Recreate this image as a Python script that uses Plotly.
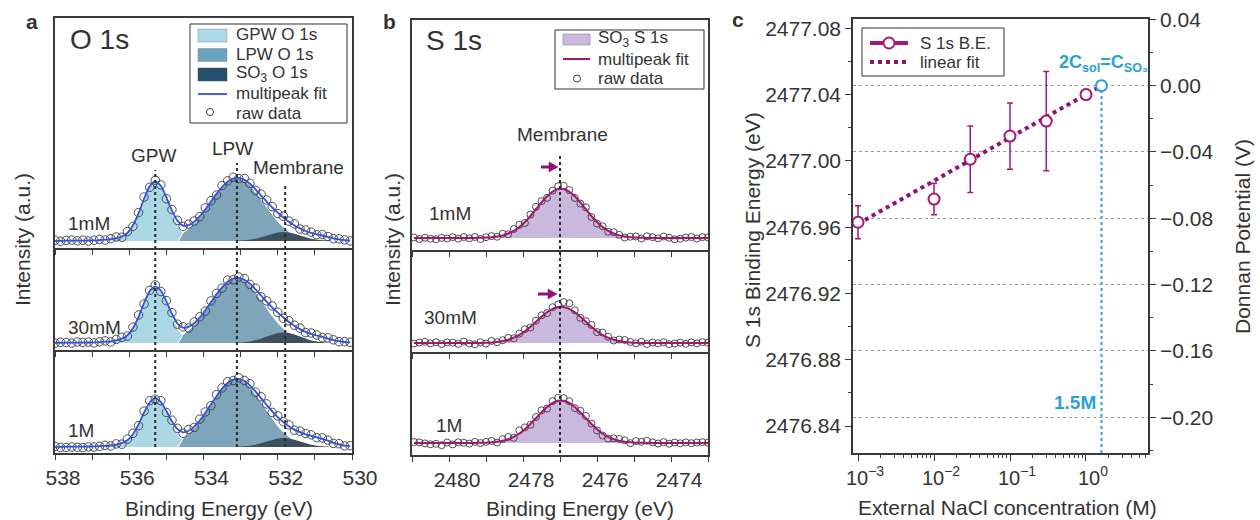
import plotly.graph_objects as go

W, H = 1260, 520
def fx(p): return p / W
def fy(p): return 1 - p / H

FONT = "Liberation Sans, Arial, Helvetica, sans-serif"
TXT = "#333333"
AXC = "#3a3a3a"

# ======================= DATA =======================
# ---- panel a : O 1s (intensity in arbitrary units, baseline = 0)
o_be = [538.00, 537.85, 537.70, 537.55, 537.40, 537.25, 537.10, 536.95, 536.80, 536.65,
        536.50, 536.35, 536.20, 536.05, 535.90, 535.75, 535.60, 535.45, 535.30, 535.15,
        535.00, 534.85, 534.70, 534.55, 534.40, 534.25, 534.10, 533.95, 533.80, 533.65,
        533.50, 533.35, 533.20, 533.05, 532.90, 532.75, 532.60, 532.45, 532.30, 532.15,
        532.00, 531.85, 531.70, 531.55, 531.40, 531.25, 531.10, 530.95, 530.80, 530.65,
        530.50, 530.35, 530.20, 530.05]
o_samples = ["1mM", "30mM", "1M"]
o_raw_1mM = [0.7, -0.2, 0.6, 0.9, 0.2, 0.8, 0.0, 0.8, 1.6, 1.0,
             2.3, 4.0, 3.7, 9.5, 14.6, 28.4, 43.9, 53.7, 60.8, 56.1,
             42.2, 31.4, 20.7, 14.6, 16.9, 20.0, 24.3, 33.1, 40.3, 46.0,
             55.5, 60.2, 63.7, 62.4, 62.6, 57.7, 50.7, 46.8, 41.0, 34.4,
             27.4, 24.8, 19.9, 17.1, 12.0, 11.0, 8.9, 6.2, 6.4, 4.5,
             2.3, 2.2, 1.1, 0.1]
o_fit_1mM = [0.2, 0.2, 0.3, 0.3, 0.4, 0.4, 0.5, 0.6, 0.9, 1.3,
             1.8, 2.8, 4.5, 8.0, 15.6, 27.6, 42.3, 54.6, 59.6, 55.2,
             43.6, 30.3, 20.1, 15.4, 15.9, 19.3, 24.9, 31.8, 39.5, 47.1,
             54.0, 59.3, 62.5, 63.1, 61.2, 57.2, 51.7, 45.6, 39.4, 33.6,
             28.3, 23.5, 19.2, 15.6, 12.6, 10.0, 8.1, 6.7, 5.5, 4.1,
             2.6, 1.6, 0.9, 0.5]
o_raw_30mM = [-0.1, 0.7, 0.5, -0.1, 1.0, 0.5, 0.9, 0.1, 1.2, 2.1,
              1.1, 3.6, 5.7, 6.9, 15.9, 28.0, 39.0, 52.6, 58.1, 51.5,
              42.4, 30.4, 18.8, 16.2, 15.0, 21.0, 26.2, 31.9, 42.1, 49.6,
              54.9, 62.8, 63.3, 66.0, 64.5, 58.6, 54.8, 46.2, 42.1, 37.1,
              30.7, 24.7, 22.2, 17.8, 14.9, 10.4, 10.0, 8.0, 5.5, 5.2,
              3.2, 1.3, 1.4, 0.75]
o_fit_30mM = [0.2, 0.2, 0.3, 0.3, 0.4, 0.4, 0.5, 0.6, 0.9, 1.3,
              1.7, 2.7, 4.4, 7.6, 14.8, 26.2, 40.2, 51.9, 56.6, 52.5,
              41.6, 29.0, 19.5, 15.3, 16.1, 19.8, 25.6, 32.8, 40.7, 48.6,
              55.7, 61.2, 64.5, 65.1, 63.2, 59.2, 53.7, 47.5, 41.4, 35.6,
              30.3, 25.5, 21.0, 17.2, 13.9, 11.1, 9.1, 7.5, 6.1, 4.5,
              2.9, 1.8, 1.0, 0.55]
o_raw_1M = [0.6, -0.4, -0.5, 0.0, -0.3, -0.5, 0.1, 0.0, 0.7, 1.7,
            1.1, 3.1, 2.8, 7.9, 13.7, 21.3, 35.9, 46.3, 47.8, 46.3,
            34.5, 26.8, 18.7, 13.7, 17.6, 19.6, 27.8, 35.0, 41.4, 52.3,
            59.1, 65.3, 66.5, 69.2, 66.6, 63.2, 54.9, 50.2, 43.1, 34.6,
            31.1, 25.4, 22.1, 16.8, 15.8, 13.4, 12.2, 9.3, 9.1, 6.9,
            3.6, 3.3, 1.1, 1.3]
o_fit_1M = [0.2, 0.2, 0.3, 0.3, 0.4, 0.4, 0.5, 0.6, 0.9, 1.2,
            1.6, 2.4, 3.9, 6.7, 12.8, 22.6, 34.5, 44.5, 48.6, 45.2,
            36.0, 25.5, 17.8, 14.7, 16.2, 20.4, 26.6, 34.3, 42.6, 50.8,
            58.3, 64.0, 67.4, 68.1, 66.0, 61.7, 55.6, 48.9, 42.2, 35.7,
            29.9, 24.9, 20.7, 17.4, 14.8, 12.6, 11.1, 9.7, 8.2, 6.3,
            4.1, 2.6, 1.4, 0.8]

gpw_be = [536.80, 536.65, 536.50, 536.35, 536.20, 536.05, 535.90, 535.75, 535.60, 535.45,
          535.30, 535.15, 535.00, 534.85, 534.70, 534.55, 534.40, 534.25, 534.10, 533.95, 533.80]
gpw_1mM = [0.24, 0.47, 0.89, 1.77, 3.54, 7.08, 14.75, 27.0, 41.7, 54.1, 59.0,
           54.1, 41.7, 27.0, 14.75, 7.08, 3.54, 1.77, 0.89, 0.47, 0.24]
gpw_30mM = [0.22, 0.45, 0.84, 1.68, 3.36, 6.72, 14.0, 25.6, 39.6, 51.4, 56.0,
            51.4, 39.6, 25.6, 14.0, 6.72, 3.36, 1.68, 0.84, 0.45, 0.22]
gpw_1M = [0.19, 0.38, 0.72, 1.44, 2.88, 5.76, 12.0, 22.0, 33.9, 44.0, 48.0,
          44.0, 33.9, 22.0, 12.0, 5.76, 2.88, 1.44, 0.72, 0.38, 0.19]

lpw_be = [534.68, 534.55, 534.40, 534.25, 534.10, 533.95, 533.80, 533.65, 533.50, 533.35,
          533.20, 533.05, 532.90, 532.75, 532.60, 532.45, 532.30, 532.15, 532.00, 531.85,
          531.70, 531.55, 531.40, 531.25, 531.10, 530.95, 530.80, 530.65]
lpw_1mM = [0, 8.3, 12.3, 17.6, 24.0, 31.4, 39.2, 47.1, 54.0, 59.3, 62.4, 62.8, 60.6, 56.0,
           49.5, 41.9, 34.0, 26.4, 19.6, 14.0, 9.5, 6.2, 3.9, 2.3, 1.3, 0.7, 0.4, 0.2]
lpw_30mM = [0, 8.55, 12.74, 18.1, 24.8, 32.4, 40.5, 48.6, 55.7, 61.2, 64.35, 64.8, 62.5, 57.8,
            51.1, 43.2, 35.0, 27.2, 20.2, 14.4, 9.8, 6.4, 4.0, 2.4, 1.4, 0.75, 0.4, 0.2]
lpw_1M = [0, 8.95, 13.3, 19.0, 25.9, 33.9, 42.4, 50.8, 58.3, 64.0, 67.3, 67.8, 65.4, 60.5,
          53.4, 45.2, 36.7, 28.5, 21.1, 15.1, 10.3, 6.7, 4.2, 2.5, 1.43, 0.79, 0.41, 0.2]

so3_be = [533.20, 533.05, 532.90, 532.75, 532.60, 532.45, 532.30, 532.15, 532.00, 531.85,
          531.70, 531.55, 531.40, 531.25, 531.10, 530.95, 530.80, 530.65, 530.50]
so3_1mM = [0.1, 0.26, 0.59, 1.2, 2.24, 3.7, 5.46, 7.2, 8.5, 9.0,
           8.5, 7.2, 5.46, 3.7, 2.24, 1.2, 0.59, 0.26, 0.1]
so3_30mM = [0.12, 0.3, 0.69, 1.42, 2.61, 4.3, 6.4, 8.4, 9.9, 10.5,
            9.9, 8.4, 6.4, 4.3, 2.61, 1.42, 0.69, 0.3, 0.12]
so3_1M = [0.1, 0.26, 0.59, 1.2, 2.24, 3.7, 5.46, 7.2, 8.5, 9.0,
          8.5, 7.2, 5.46, 3.7, 2.24, 1.2, 0.59, 0.26, 0.1]

o_peak_lines = [535.3, 533.1, 531.8]
o_tickvals = [538, 536, 534, 532, 530]
o_ticktext = ["538", "536", "534", "532", "530"]
o_minor = [537, 535, 533, 531]

# ---- panel b : S 1s
s_be = [2480.95, 2480.80, 2480.65, 2480.50, 2480.35, 2480.20, 2480.05, 2479.90, 2479.75, 2479.60,
        2479.45, 2479.30, 2479.15, 2479.00, 2478.85, 2478.70, 2478.55, 2478.40, 2478.25, 2478.10,
        2477.95, 2477.80, 2477.65, 2477.50, 2477.35, 2477.20, 2477.05, 2476.90, 2476.75, 2476.60,
        2476.45, 2476.30, 2476.15, 2476.00, 2475.85, 2475.70, 2475.55, 2475.40, 2475.25, 2475.10,
        2474.95, 2474.80, 2474.65, 2474.50, 2474.35, 2474.20, 2474.05, 2473.90, 2473.75, 2473.60,
        2473.45, 2473.30, 2473.15, 2473.00]
s_raw_1mM = [0.5, -1.0, 0.3, -0.8, -1.2, 0.2, -0.5, 0.8, -0.6, 1.0,
             -0.3, 1.0, -1.0, 0.8, 1.9, 1.3, 4.2, 3.7, 9.0, 13.2,
             15.0, 23.5, 31.2, 36.8, 40.2, 47.4, 51.8, 52.2, 47.9, 40.1,
             34.4, 30.6, 21.0, 14.5, 11.8, 6.3, 5.8, 3.2, 0.5, 1.3,
             1.6, -0.5, 1.7, 0.8, -0.4, 1.5, 0.2, -1.3, -0.8, 0.4,
             1.0, -0.5, 0.9, 0.6]
s_fit_1mM = [0, 0, 0, 0, 0, 0, 0, 0, 0, 0,
             0, 0.1, 0.2, 0.4, 0.8, 1.5, 2.6, 4.5, 7.2, 11.0,
             16.0, 22.0, 28.8, 35.6, 41.7, 46.4, 49.0, 49.0, 46.4, 41.7,
             35.6, 28.8, 22.0, 16.0, 11.0, 7.2, 4.5, 2.6, 1.5, 0.8,
             0.4, 0.2, 0.1, 0, 0, 0, 0, 0, 0, 0,
             0, 0, 0, 0]
s_raw_30mM = [-0.6, 0.5, 1.2, -0.4, 0.8, -1.1, 0.6, 0.3, -0.9, 1.4,
              -0.5, -1.3, 0.8, -0.5, 2.1, 0.8, 2.8, 5.1, 4.7, 9.4,
              13.8, 15.5, 22.3, 27.7, 29.9, 35.8, 38.6, 40.9, 39.7, 32.7,
              25.2, 21.8, 18.0, 10.9, 10.5, 6.3, 2.5, 3.4, 3.0, 1.0,
              -0.3, 1.3, -1.0, 0.5, -0.3, 0.8, -1.2, -0.5, 0.3, -0.8,
              0.6, -0.4, 0.9, 0.3]
s_fit_30mM = [0, 0, 0, 0, 0, 0, 0, 0, 0, 0,
              0, 0, 0.1, 0.3, 0.6, 1.1, 1.9, 3.3, 5.3, 8.1,
              11.8, 16.2, 21.2, 26.2, 30.7, 34.2, 36.1, 36.1, 34.2, 30.7,
              26.2, 21.2, 16.2, 11.8, 8.1, 5.3, 3.3, 1.9, 1.1, 0.6,
              0.3, 0.1, 0, 0, 0, 0, 0, 0, 0, 0,
              0, 0, 0, 0]
s_raw_1M = [1.0, 0.6, -0.4, -1.3, -0.8, -2.2, 0.4, -1.4, 0.7, 0.2,
            -0.6, 1.1, -0.1, 1.1, 2.1, 0.4, 3.9, 6.0, 5.2, 12.7,
            15.6, 18.2, 26.0, 32.7, 34.4, 41.9, 45.3, 44.8, 41.8, 34.9,
            32.2, 27.0, 19.5, 12.6, 7.5, 4.4, 4.6, 4.1, 2.7, -0.2,
            1.9, 1.2, 2.3, 0.6, -0.5, 0.9, -0.7, 0.4, -0.3, 0.6,
            -0.2, 0.5, 0.8, 0.4]
s_fit_1M = [0, 0, 0, 0, 0, 0, 0, 0, 0, 0,
            0, 0.1, 0.2, 0.3, 0.7, 1.3, 2.3, 3.8, 6.2, 9.5,
            13.8, 19.0, 24.8, 30.7, 36.0, 40.0, 42.2, 42.2, 40.0, 36.0,
            30.7, 24.8, 19.0, 13.8, 9.5, 6.2, 3.8, 2.3, 1.3, 0.7,
            0.3, 0.2, 0.1, 0, 0, 0, 0, 0, 0, 0,
            0, 0, 0, 0]
s_peak_line = 2477.0
s_tickvals = [2480, 2478, 2476, 2474]
s_ticktext = ["2480", "2478", "2476", "2474"]
s_minor = [2481, 2479, 2477, 2475, 2473]

# ---- panel c : S 1s binding energy vs NaCl concentration
nacl_M = [0.001, 0.01, 0.03, 0.1, 0.3, 1.0]
s1s_be = [2476.963, 2476.977, 2477.001, 2477.015, 2477.024, 2477.040]
s1s_err = [0.010, 0.0095, 0.020, 0.020, 0.030, 0.003]
fit_M = [0.001, 1.6]
fit_be = [2476.962, 2477.0454]
cross_M = [1.6]
cross_V = [0.0]
be_ticks = [2476.84, 2476.88, 2476.92, 2476.96, 2477.00, 2477.04, 2477.08]
v_ticks = [-0.20, -0.16, -0.12, -0.08, -0.04, 0.00, 0.04]
c_xticks = [0.001, 0.01, 0.1, 1]
c_xticktext = ["10<sup>\u22123</sup>", "10<sup>\u22122</sup>", "10<sup>\u22121</sup>", "10<sup>0</sup>"]
c_xminor = [0.002, 0.003, 0.004, 0.005, 0.006, 0.007, 0.008, 0.009,
            0.02, 0.03, 0.04, 0.05, 0.06, 0.07, 0.08, 0.09,
            0.2, 0.3, 0.4, 0.5, 0.6, 0.7, 0.8, 0.9,
            2, 3, 4, 5, 6]

# ======================= STYLE =======================
C_GPW, C_LPW, C_SO3 = "#acd8e6", "#7ea5ba", "#3e505e"
C_GPW_L, C_LPW_L, C_SO3_L = "#abdaea", "#6aa2c2", "#24506c"
C_OFIT = "#3050e0"
C_SFILL = "#cbb8df"
C_SFIT = "#a3166f"
C_MAG = "#a3187d"
C_FIT = "#8c1273"
C_BLUE = "#2a9fd8"

fig = go.Figure()

o_axes = [("x", "y"), ("x2", "y2"), ("x3", "y3")]
s_axes = [("x4", "y4"), ("x5", "y5"), ("x6", "y6")]

o_sets = [(gpw_1mM, lpw_1mM, so3_1mM, o_raw_1mM, o_fit_1mM),
          (gpw_30mM, lpw_30mM, so3_30mM, o_raw_30mM, o_fit_30mM),
          (gpw_1M, lpw_1M, so3_1M, o_raw_1M, o_fit_1M)]
for (xa, ya), (gp, lp, so, raw, fit), name in zip(o_axes, o_sets, o_samples):
    common = dict(xaxis=xa, yaxis=ya, showlegend=False, hoverinfo="skip")
    fig.add_trace(go.Scatter(x=gpw_be, y=gp, mode="lines", fill="tozeroy", fillcolor=C_GPW,
                             line=dict(width=0, color=C_GPW), name="GPW O 1s " + name, **common))
    fig.add_trace(go.Scatter(x=lpw_be, y=lp, mode="lines", fill="tozeroy", fillcolor=C_LPW,
                             line=dict(width=1, color="white"), name="LPW O 1s " + name, **common))
    fig.add_trace(go.Scatter(x=so3_be, y=so, mode="lines", fill="tozeroy", fillcolor=C_SO3,
                             line=dict(width=0, color=C_SO3), name="SO3 O 1s " + name, **common))
    fig.add_trace(go.Scatter(x=o_be, y=raw, mode="markers", name="raw data " + name,
                             marker=dict(symbol="circle-open", size=8.5, color="#3a3a3a",
                                         line=dict(width=0.9, color="#3a3a3a")), **common))
    fig.add_trace(go.Scatter(x=o_be, y=fit, mode="lines", name="multipeak fit " + name,
                             line=dict(color=C_OFIT, width=1.8, shape="spline", smoothing=0.6), **common))

s_sets = [(s_raw_1mM, s_fit_1mM), (s_raw_30mM, s_fit_30mM), (s_raw_1M, s_fit_1M)]
for (xa, ya), (raw, fit), name in zip(s_axes, s_sets, o_samples):
    common = dict(xaxis=xa, yaxis=ya, showlegend=False, hoverinfo="skip")
    fig.add_trace(go.Scatter(x=s_be, y=fit, mode="lines", fill="tozeroy", fillcolor=C_SFILL,
                             line=dict(width=0, color=C_SFILL), name="SO3 S 1s " + name, **common))
    fig.add_trace(go.Scatter(x=s_be, y=raw, mode="markers", name="raw data " + name,
                             marker=dict(symbol="circle-open", size=7, color="#3a3a3a",
                                         line=dict(width=0.9, color="#3a3a3a")), **common))
    fig.add_trace(go.Scatter(x=s_be, y=fit, mode="lines", name="multipeak fit " + name,
                             line=dict(color=C_SFIT, width=2, shape="spline", smoothing=0.6), **common))

# panel c
fig.add_trace(go.Scatter(x=fit_M, y=fit_be, xaxis="x7", yaxis="y7", mode="lines", name="linear fit",
                         line=dict(color=C_FIT, width=4, dash="dot"), showlegend=False, hoverinfo="skip"))
fig.add_trace(go.Scatter(x=nacl_M, y=s1s_be, xaxis="x7", yaxis="y7", mode="markers", name="S 1s B.E.",
                         marker=dict(symbol="circle", size=11, color="white", line=dict(color=C_MAG, width=2)),
                         error_y=dict(type="data", array=s1s_err, color=C_MAG, thickness=1.5, width=3),
                         cliponaxis=False, showlegend=False, hoverinfo="skip"))
fig.add_trace(go.Scatter(x=cross_M, y=cross_V, xaxis="x7", yaxis="y8", mode="markers", name="2Csol=CSO3",
                         marker=dict(symbol="circle", size=11, color="white", line=dict(color=C_BLUE, width=2)),
                         cliponaxis=False, showlegend=False, hoverinfo="skip"))

# ======================= AXES =======================
tickfont = dict(family=FONT, size=21, color=TXT)
def xspec(dom, anchor, rng, tv, tt, mv, labels, mirror):
    d = dict(domain=dom, anchor=anchor, range=rng, tickmode="array", tickvals=tv,
             showticklabels=labels, ticks="outside", ticklen=5, tickwidth=1.2,
             tickcolor=AXC,
             minor=dict(tickmode="array", tickvals=mv, ticks="outside", ticklen=5, tickwidth=1.2,
                        tickcolor=AXC, showgrid=False),
             showline=True, linecolor=AXC, linewidth=1.5, mirror=mirror,
             showgrid=False, zeroline=False, tickfont=tickfont, automargin=False)
    if labels:
        d.update(ticktext=tt, ticklabelshift=-8)
    return d
def yspec(dom, anchor, rng):
    return dict(domain=dom, anchor=anchor, range=rng, showticklabels=False, ticks="",
                showline=True, linecolor=AXC, linewidth=1.5, mirror=True, showgrid=False,
                zeroline=False, automargin=False)

xa_dom = [fx(55), fx(352)]
xb_dom = [fx(412), fx(708)]
a_rows = [(18, 248), (248, 350), (350, 453)]
b_rows = [(20, 250), (250, 352), (352, 455)]
a_ranges = [[-7, 223], [-7, 95], [-6, 97]]
b_ranges = [[-12, 218], [-9, 93], [-12, 91]]

layout_axes = {}
for i, ((xa, ya), (t, b), rng) in enumerate(zip(o_axes, a_rows, a_ranges)):
    xk = "xaxis" if xa == "x" else "xaxis" + xa[1:]
    yk = "yaxis" if ya == "y" else "yaxis" + ya[1:]
    layout_axes[xk] = xspec(xa_dom, ya, [538, 530], o_tickvals, o_ticktext, o_minor, i == 2, i == 0)
    layout_axes[yk] = yspec([fy(b), fy(t)], xa, rng)
for i, ((xa, ya), (t, b), rng) in enumerate(zip(s_axes, b_rows, b_ranges)):
    layout_axes["xaxis" + xa[1:]] = xspec(xb_dom, ya, [2481, 2473], s_tickvals, s_ticktext, s_minor,
                                          i == 2, i == 0)
    layout_axes["yaxis" + ya[1:]] = yspec([fy(b), fy(t)], xa, rng)

be0 = 2477.0454
layout_axes["xaxis7"] = dict(domain=[fx(853), fx(1148)], anchor="y7", type="log",
                             range=[-3.066, 0.816], tickmode="array", tickvals=c_xticks, ticktext=c_xticktext,
                             ticks="outside", ticklen=6, tickwidth=1.2, tickcolor=AXC, ticklabelshift=7,
                             minor=dict(tickmode="array", tickvals=c_xminor, ticks="outside", ticklen=3,
                                        tickwidth=1, tickcolor=AXC, showgrid=False),
                             showline=True, linecolor=AXC, linewidth=1.5, mirror=True,
                             showgrid=False, zeroline=False, tickfont=dict(family=FONT, size=20, color=TXT),
                             automargin=False)
layout_axes["yaxis7"] = dict(domain=[fy(453), fy(19)], anchor="x7",
                             range=[be0 - 0.2216, be0 + 0.0402], tickmode="array", tickvals=be_ticks,
                             ticktext=["%.2f" % v for v in be_ticks], ticks="outside", ticklen=6,
                             tickwidth=1.2, tickcolor=AXC,
                             minor=dict(ticks="outside", ticklen=3, tickcolor=AXC, tick0=2476.82, dtick=0.04,
                                        showgrid=False),
                             showline=True, linecolor=AXC, linewidth=1.5, showgrid=False, zeroline=False,
                             tickfont=dict(family=FONT, size=21, color=TXT), automargin=False)
layout_axes["yaxis8"] = dict(overlaying="y7", side="right", anchor="x7",
                             range=[-0.2216, 0.0402], tickmode="array", tickvals=v_ticks,
                             ticktext=[("\u2212%.2f" % abs(v)) if v < 0 else "%.2f" % v for v in v_ticks],
                             ticks="outside", ticklen=6, tickwidth=1.2, tickcolor=AXC,
                             minor=dict(ticks="outside", ticklen=3, tickcolor=AXC, tick0=-0.22, dtick=0.04,
                                        showgrid=False),
                             showline=True, linecolor=AXC, linewidth=1.5,
                             showgrid=True, gridcolor="#9a9a9a", griddash="dot", gridwidth=1,
                             zeroline=False, tickfont=dict(family=FONT, size=21, color=TXT), automargin=False)

# ======================= SHAPES =======================
shapes = []
def rect(x0, y0, x1, y1, fill, lc, lw):
    return dict(type="rect", xref="paper", yref="paper", x0=fx(x0), x1=fx(x1), y0=fy(y1), y1=fy(y0),
                fillcolor=fill, line=dict(color=lc, width=lw), layer="above")
def pline(x0, y0, x1, y1, color, width, dash="solid"):
    return dict(type="line", xref="paper", yref="paper", x0=fx(x0), x1=fx(x1), y0=fy(y0), y1=fy(y1),
                line=dict(color=color, width=width, dash=dash), layer="above")
def circ(cx, cy, d, fill, lc, lw):
    r = d / 2
    return dict(type="circle", xref="paper", yref="paper", x0=fx(cx - r), x1=fx(cx + r),
                y0=fy(cy + r), y1=fy(cy - r), fillcolor=fill, line=dict(color=lc, width=lw), layer="above")
def arrow(tail, tip, y, color):
    shaft = pline(tail, y, tip - 7, y, color, 3)
    head = dict(type="path", xref="paper", yref="paper",
                path="M %f,%f L %f,%f L %f,%f Z" % (fx(tip - 9), fy(y - 5), fx(tip), fy(y), fx(tip - 9), fy(y + 5)),
                fillcolor=color, line=dict(color=color, width=0.5), layer="above")
    return [shaft, head]

# dotted peak lines
for xv, ytop in zip(o_peak_lines, [170, 163, 183]):
    shapes.append(dict(type="line", xref="x", yref="paper", x0=xv, x1=xv, y0=fy(447), y1=fy(ytop),
                       line=dict(color="#2a2a2a", width=2, dash="dot"), layer="above"))
shapes.append(dict(type="line", xref="x4", yref="paper", x0=s_peak_line, x1=s_peak_line, y0=fy(453), y1=fy(153),
                   line=dict(color="#2a2a2a", width=2, dash="dot"), layer="above"))
# blue dotted line in c
shapes.append(dict(type="line", xref="x7", yref="y8", x0=cross_M[0], x1=cross_M[0], y0=-0.2216, y1=0,
                   line=dict(color=C_BLUE, width=2, dash="dot"), layer="below"))
# arrows in b
shapes += arrow(541, 558, 167, C_FIT)
shapes += arrow(538, 557, 294, C_FIT)

# legend a
shapes.append(rect(190, 24, 347, 123, "white", "#333333", 1))
shapes.append(rect(198, 29, 227, 42, C_GPW_L, "#888888", 0.5))
shapes.append(rect(198, 48.5, 227, 61.5, C_LPW_L, "#888888", 0.5))
shapes.append(rect(198, 68, 227, 81, C_SO3_L, "#555555", 0.5))
shapes.append(pline(198, 94, 227, 94, C_OFIT, 1.8))
shapes.append(circ(210, 112, 7, "white", "#2a2a2a", 0.9))
# legend b
shapes.append(rect(555, 30, 704, 89, "white", "#333333", 1))
shapes.append(rect(563, 34, 590, 45, C_SFILL, "#888888", 0.6))
shapes.append(pline(563, 59, 590, 59, C_SFIT, 2))
shapes.append(circ(577, 78.5, 7, "white", "#2a2a2a", 0.9))
# legend c
shapes.append(rect(862, 28, 1004, 76, "white", "#333333", 1))
shapes.append(pline(870, 43, 908, 43, C_MAG, 4))
shapes.append(circ(889, 43, 11, "white", C_MAG, 2))
shapes.append(pline(870, 62, 908, 62, C_FIT, 4, "dot"))

# ======================= TEXT =======================
ann = []
def txt(x, y, s, size=19, xanchor="center", color=TXT, angle=0):
    ann.append(dict(xref="paper", yref="paper", x=fx(x), y=fy(y), text=s, showarrow=False,
                    xanchor=xanchor, yanchor="middle", textangle=angle,
                    font=dict(family=FONT, size=size, color=color)))

txt(32, 22, "<b>a</b>", 21)
txt(389, 22, "<b>b</b>", 21)
txt(738, 20, "<b>c</b>", 21)
txt(68, 40, "O 1s", 28, "left")
txt(424, 41, "S 1s", 28, "left")
txt(153, 155, "GPW", 19)
txt(232, 148, "LPW", 19)
txt(298, 168, "Membrane", 19)
txt(562, 135, "Membrane", 19)
for (x, y), s in zip([(66, 223), (66, 327), (66, 430)], o_samples):
    txt(x, y, s, 19, "left")
for (x, y), s in zip([(427, 213), (422, 317), (434, 425)], o_samples):
    txt(x, y, s, 19, "left")
txt(22, 240, "Intensity (a.u.)", 21, angle=-90)
txt(392, 240, "Intensity (a.u.)", 21, angle=-90)
txt(219, 508, "Binding Energy (eV)", 21)
txt(580, 508, "Binding Energy (eV)", 21)
txt(1007, 507, "External NaCl concentration (M)", 21)
txt(752, 230, "S 1s Binding Energy (eV)", 21, angle=-90)
txt(1243, 237, "Donnan Potential (V)", 21, angle=-90)
# legend texts
txt(234, 35, "GPW O 1s", 17, "left")
txt(234, 54.5, "LPW O 1s", 17, "left")
txt(234, 74, "SO<sub>3</sub> O 1s", 17, "left")
txt(234, 93.5, "multipeak fit", 17, "left")
txt(234, 113, "raw data", 17, "left")
txt(596, 39.5, "SO<sub>3</sub> S 1s", 17, "left")
txt(596, 59, "multipeak fit", 17, "left")
txt(596, 78.5, "raw data", 17, "left")
txt(918, 43, "S 1s B.E.", 17, "left")
txt(918, 62, "linear fit", 17, "left")
# blue labels
txt(1103, 63, "<b>2C<sub>sol</sub>=C<sub>SO\u2083</sub></b>", 18, color=C_BLUE)
txt(1098, 402, "<b>1.5M</b>", 19, "right", color=C_BLUE)

fig.update_layout(width=W, height=H, autosize=False, margin=dict(l=0, r=0, t=0, b=0),
                  template="none", paper_bgcolor="white", plot_bgcolor="rgba(0,0,0,0)",
                  showlegend=False, hovermode=False, shapes=shapes, annotations=ann,
                  font=dict(family=FONT, color=TXT), **layout_axes)

fig.write_html("out.html")
